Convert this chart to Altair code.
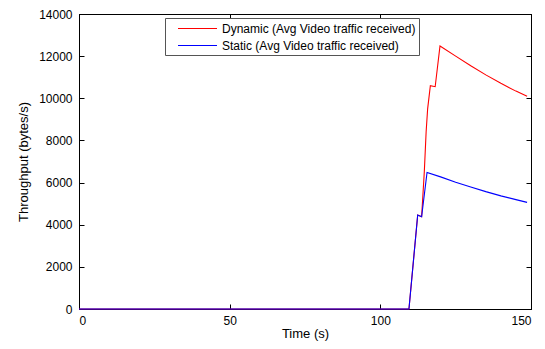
import altair as alt
import pandas as pd

# Dynamic series
dyn_t = [0, 109.5, 112.4, 113.7, 114.6, 115.2, 115.7, 116.6, 118.2, 119.8,
         125, 130, 135, 140, 145, 148.7]
dyn_v = [0, 0, 4460, 4380, 6530, 8410, 9500, 10600, 10550, 12480,
         12000, 11540, 11110, 10710, 10340, 10100]

# Static series
sta_t = [0, 109.5, 112.4, 113.7, 115.5, 120, 125, 130, 135, 140, 145, 148.7]
sta_v = [0, 0, 4460, 4380, 6480, 6270, 6020, 5790, 5570, 5370, 5190, 5060]

names = ["Dynamic (Avg Video traffic received)", "Static (Avg Video traffic received)"]
colors = ["#ff0000", "#0000ff"]
x_ticks = [0, 50, 100, 150]
y_ticks = [0, 2000, 4000, 6000, 8000, 10000, 12000, 14000]

df = pd.concat([
    pd.DataFrame({"t": dyn_t, "v": dyn_v, "series": names[0], "ord": 0}),
    pd.DataFrame({"t": sta_t, "v": sta_v, "series": names[1], "ord": 1}),
])

FONT = "Liberation Sans"
DASH = [5, 3000]

xs = alt.Scale(domain=[0, 150], nice=False)
ys = alt.Scale(domain=[0, 14000], nice=False)

lines = alt.Chart(df).mark_line(strokeWidth=1.1).encode(
    x=alt.X("t:Q", scale=xs, title="Time (s)",
            axis=alt.Axis(values=x_ticks, orient="bottom", ticks=False, grid=True, format="d",
                          gridDash=DASH, gridColor="black", gridOpacity=1, gridWidth=1,
                          labelPadding=6, titlePadding=1)),
    y=alt.Y("v:Q", scale=ys, title="Throughput (bytes/s)",
            axis=alt.Axis(values=y_ticks, orient="left", ticks=False, grid=True, format="d",
                          gridDash=DASH, gridColor="black", gridOpacity=1, gridWidth=1,
                          labelPadding=7, titlePadding=8)),
    color=alt.Color("series:N", scale=alt.Scale(domain=names, range=colors),
                    legend=alt.Legend(title=None, orient="none", legendX=86, legendY=4,
                                      symbolType="M-3,0H3", symbolSize=169,
                                      symbolStrokeWidth=1.2, symbolOffset=22,
                                      labelOffset=17, labelFont=FONT, labelFontSize=12,
                                      labelColor="black", labelLimit=400,
                                      strokeColor="#555555", fillColor="white",
                                      padding=3, rowPadding=3)),
    order="ord:Q",
    detail="series:N",
)

frame = alt.Chart(df).mark_line(strokeOpacity=0).encode(
    x=alt.X("t:Q", scale=xs, title=None,
            axis=alt.Axis(values=x_ticks, orient="top", labels=False, ticks=False, grid=True,
                          gridDash=DASH, gridColor="black", gridOpacity=1, gridWidth=1)),
    y=alt.Y("v:Q", scale=ys, title=None,
            axis=alt.Axis(values=y_ticks, orient="right", labels=False, ticks=False, grid=True,
                          gridDash=DASH, gridColor="black", gridOpacity=1, gridWidth=1)),
    detail="series:N",
)

chart = alt.layer(frame, lines).resolve_axis(x="independent", y="independent").properties(
    width=452, height=295,
    autosize=alt.AutoSizeParams(type="none"),
    padding={"left": 71, "top": 6, "right": 5, "bottom": 36},
).configure_view(stroke="black", strokeWidth=1).configure_axis(
    domainColor="black", domainWidth=1,
    labelFont=FONT, labelFontSize=12, labelColor="black",
    titleFont=FONT, titleFontSize=13, titleFontWeight="normal", titleColor="black",
)

chart.save("out.html", embed_options={"renderer": "svg", "actions": False})
